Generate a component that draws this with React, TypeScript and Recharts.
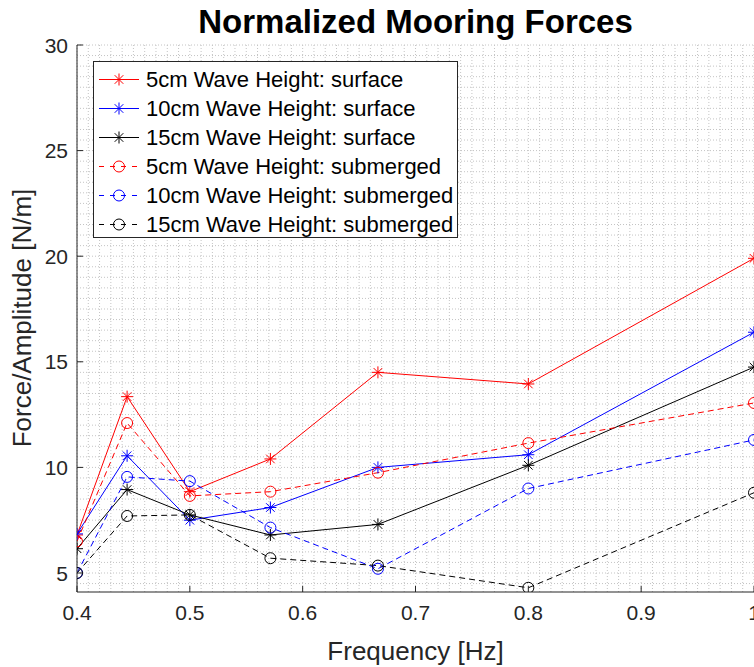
import React from 'react';
import { LineChart, Line, XAxis, YAxis, CartesianGrid, Legend, Label } from 'recharts';

// ---- data ----
const frequency = [0.4, 0.4444, 0.5, 0.5714, 0.6667, 0.8, 1.0];
const surface5 = [6.8, 13.35, 8.85, 10.4, 14.5, 13.95, 19.9];
const surface10 = [6.85, 10.55, 7.5, 8.1, 10.0, 10.6, 16.4];
const surface15 = [6.15, 8.95, 7.75, 6.8, 7.3, 10.1, 14.75];
const submerged5 = [6.5, 12.1, 8.65, 8.85, 9.75, 11.15, 13.05];
const submerged10 = [5.0, 9.55, 9.35, 7.15, 5.2, 9.0, 11.3];
const submerged15 = [5.0, 7.7, 7.75, 5.7, 5.35, 4.3, 8.8];

const xTicks = [0.4, 0.5, 0.6, 0.7, 0.8, 0.9, 1.0];
const yTicks = [5, 10, 15, 20, 25, 30];
const xMinorStep = 0.01;
const yMinorStep = 0.5;

const chartTitle = 'Normalized Mooring Forces';
const xLabel = 'Frequency [Hz]';
const yLabel = 'Force/Amplitude [N/m]';

const seriesKeys = ['s5', 's10', 's15', 'm5', 'm10', 'm15'];
const seriesNames = [
  '5cm Wave Height: surface',
  '10cm Wave Height: surface',
  '15cm Wave Height: surface',
  '5cm Wave Height: submerged',
  '10cm Wave Height: submerged',
  '15cm Wave Height: submerged',
];
const seriesValues = [surface5, surface10, surface15, submerged5, submerged10, submerged15];
const seriesColors = ['#ff0000', '#0000ff', '#000000', '#ff0000', '#0000ff', '#000000'];
const seriesDashed = [false, false, false, true, true, true];

const data = frequency.map((f, i) => {
  const row: Record<string, number> = { f };
  seriesKeys.forEach((k, j) => {
    row[k] = seriesValues[j][i];
  });
  return row;
});

const xMinor: number[] = [];
for (let i = 0; i <= 60; i++) xMinor.push(+(0.4 + i * xMinorStep).toFixed(2));
const yMinor: number[] = [];
for (let i = 0; i <= 52; i++) {
  const v = 4.5 + i * yMinorStep;
  if (v <= 30) yMinor.push(v);
}

// ---- style ----
const FONT = '"Liberation Sans", Arial, Helvetica, sans-serif';
const AXIS = '#262626';

const StarDot = ({ cx, cy, color }: any) => {
  const r = 6;
  const d = 4.3;
  return (
    <g stroke={color} strokeWidth={1} fill="none">
      <line x1={cx - r} y1={cy} x2={cx + r} y2={cy} />
      <line x1={cx} y1={cy - r} x2={cx} y2={cy + r} />
      <line x1={cx - d} y1={cy - d} x2={cx + d} y2={cy + d} />
      <line x1={cx - d} y1={cy + d} x2={cx + d} y2={cy - d} />
    </g>
  );
};
const CircleDot = ({ cx, cy, color }: any) => (
  <circle cx={cx} cy={cy} r={5.5} stroke={color} strokeWidth={1} fill="none" />
);

const LeftTick = (props: any) => {
  const { x, y, payload } = props;
  const axisX = x + 9;
  return (
    <g>
      <line x1={axisX} x2={axisX + 6} y1={y} y2={y} stroke={AXIS} strokeWidth={1} />
      <text x={x} y={y} dy="0.36em" textAnchor="end" fill={AXIS} fontSize={21} fontFamily={FONT}>
        {payload.value}
      </text>
    </g>
  );
};
const RightTick = (props: any) => {
  const { x, y } = props;
  return <line x1={x - 6} x2={x} y1={y} y2={y} stroke={AXIS} strokeWidth={1} />;
};
const BottomTick = (props: any) => {
  const { x, y, payload } = props;
  const axisY = y - 13;
  const v = payload.value;
  const label = v === 1 ? '1' : v.toFixed(1);
  return (
    <g>
      <line x1={x} x2={x} y1={axisY} y2={axisY - 6} stroke={AXIS} strokeWidth={1} />
      <text x={x} y={y} dy="0.72em" textAnchor="middle" fill={AXIS} fontSize={21} fontFamily={FONT}>
        {label}
      </text>
    </g>
  );
};
const TopTick = (props: any) => {
  const { x, y } = props;
  return <line x1={x} x2={x} y1={y} y2={y + 6} stroke={AXIS} strokeWidth={1} />;
};

const renderLegend = () => (
  <div
    style={{
      position: 'relative',
      width: 365,
      height: 177,
      boxSizing: 'border-box',
      border: `1px solid ${AXIS}`,
      background: '#ffffff',
      fontFamily: FONT,
    }}
  >
    {seriesNames.map((name, i) => {
      const c = seriesColors[i];
      const top = 3 + i * 28.9;
      return (
        <div key={name} style={{ position: 'absolute', left: 4, top, height: 29, width: 355 }}>
          <svg width={42} height={29} style={{ position: 'absolute', left: 0, top: 0 }}>
            <line
              x1={1}
              x2={41}
              y1={14.5}
              y2={14.5}
              stroke={c}
              strokeWidth={1}
              strokeDasharray={seriesDashed[i] ? '5 6' : undefined}
            />
            {seriesDashed[i] ? <CircleDot cx={21} cy={14.5} color={c} /> : <StarDot cx={21} cy={14.5} color={c} />}
          </svg>
          <span
            style={{
              position: 'absolute',
              left: 48,
              top: 0,
              lineHeight: '29px',
              fontSize: 22,
              color: '#000',
              whiteSpace: 'nowrap',
            }}
          >
            {name}
          </span>
        </div>
      );
    })}
  </div>
);

export default function App() {
  return (
    <div
      style={{
        position: 'absolute',
        left: 0,
        top: 0,
        width: 754,
        height: 667,
        overflow: 'hidden',
        background: '#ffffff',
        fontFamily: FONT,
      }}
    >
      <svg width={754} height={44} style={{ position: 'absolute', left: 0, top: 0 }}>
        <text x={415.5} y={33} textAnchor="middle" fontSize={33} fontWeight="bold" fill="#000" fontFamily={FONT}>
          {chartTitle}
        </text>
      </svg>
      <LineChart width={756} height={667} data={data} margin={{ top: 45, right: 2, bottom: 15, left: 0 }}>
        <CartesianGrid
          verticalValues={xMinor}
          horizontalValues={yMinor}
          stroke="#c4c4c4"
          strokeDasharray="1 2"
        />
        <XAxis
          dataKey="f"
          type="number"
          domain={[0.4, 1.0]}
          ticks={xTicks}
          interval={0}
          allowDataOverflow
          height={60}
          tickSize={0}
          tickMargin={13}
          tickLine={false}
          axisLine={{ stroke: AXIS, strokeWidth: 1 }}
          tick={<BottomTick />}
        >
          <Label
            content={(p: any) => {
              const vb = p.viewBox;
              return (
                <text x={vb.x + vb.width / 2} y={660} textAnchor="middle" fontSize={26} fill={AXIS} fontFamily={FONT}>
                  {xLabel}
                </text>
              );
            }}
          />
        </XAxis>
        <XAxis
          xAxisId="top"
          orientation="top"
          dataKey="f"
          type="number"
          domain={[0.4, 1.0]}
          ticks={xTicks}
          interval={0}
          allowDataOverflow
          height={0}
          tickSize={0}
          tickMargin={0}
          tickLine={false}
          axisLine={{ stroke: AXIS, strokeWidth: 1 }}
          tick={<TopTick />}
        />
        <YAxis
          type="number"
          domain={[4.1, 30]}
          ticks={yTicks}
          interval={0}
          allowDataOverflow
          width={77}
          tickSize={0}
          tickMargin={9}
          tickLine={false}
          axisLine={{ stroke: AXIS, strokeWidth: 1 }}
          tick={<LeftTick />}
        >
          <Label
            content={() => (
              <text
                x={31}
                y={318}
                transform="rotate(-90, 31, 318)"
                textAnchor="middle"
                fontSize={26}
                fill={AXIS}
                fontFamily={FONT}
              >
                {yLabel}
              </text>
            )}
          />
        </YAxis>
        <YAxis
          yAxisId="right"
          orientation="right"
          type="number"
          domain={[4.1, 30]}
          ticks={yTicks}
          interval={0}
          allowDataOverflow
          width={0}
          tickSize={0}
          tickMargin={0}
          tickLine={false}
          axisLine={false}
          tick={<RightTick />}
        />
        {seriesKeys.map((k, i) => (
          <Line
            key={k}
            type="linear"
            dataKey={k}
            name={seriesNames[i]}
            stroke={seriesColors[i]}
            strokeWidth={1}
            strokeDasharray={seriesDashed[i] ? '6 4' : undefined}
            isAnimationActive={false}
            activeDot={false}
            dot={(p: any) =>
              seriesDashed[i] ? (
                <CircleDot key={`${k}-${p.index}`} cx={p.cx} cy={p.cy} color={seriesColors[i]} />
              ) : (
                <StarDot key={`${k}-${p.index}`} cx={p.cx} cy={p.cy} color={seriesColors[i]} />
              )
            }
          />
        ))}
        <Legend
          layout="vertical"
          align="center"
          verticalAlign="middle"
          wrapperStyle={{ left: 93, top: 61, width: 365, height: 177 }}
          content={renderLegend}
        />
      </LineChart>
    </div>
  );
}
